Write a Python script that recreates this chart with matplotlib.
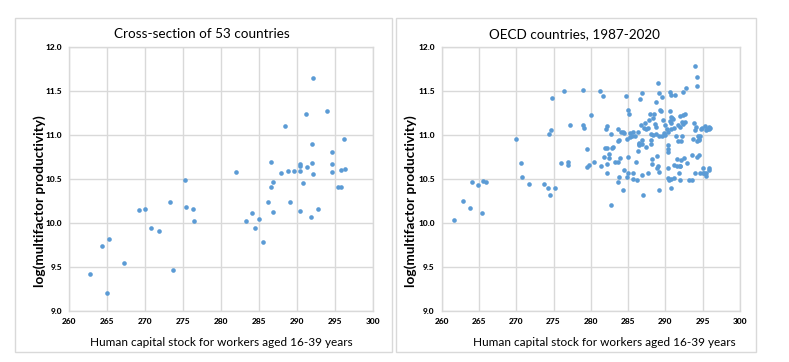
import matplotlib
matplotlib.use("Agg")
import matplotlib.pyplot as plt
from matplotlib.patches import Rectangle

plt.rcParams["font.family"] = ["Lato", "DejaVu Sans"]

# ---------------------------------------------------------------
# Data
# ---------------------------------------------------------------
cross_hc = [262.7, 264.3, 265.2, 265.0, 267.2, 269.2, 269.9, 270.8, 271.8, 273.3,
            273.7, 275.2, 275.3, 276.3, 276.4, 281.9, 283.2, 284.1, 284.4, 285.0,
            285.5, 286.1, 286.5, 286.6, 286.8, 286.8, 287.9, 288.4, 288.8, 289.0,
            289.6, 290.4, 290.4, 290.4, 290.4, 290.8, 291.2, 291.3, 291.8, 291.9,
            291.9, 292.1, 292.1, 292.7, 293.9, 294.5, 294.5, 294.6, 295.3, 295.7,
            295.8, 296.1, 296.3]
cross_mfp = [9.42, 9.73, 9.81, 9.20, 9.54, 10.14, 10.16, 9.94, 9.91, 10.24,
             9.46, 10.48, 10.18, 10.16, 10.02, 10.58, 10.02, 10.11, 9.94, 10.04,
             9.78, 10.23, 10.69, 10.41, 10.46, 10.12, 10.57, 11.10, 10.59, 10.23,
             10.59, 10.67, 10.65, 10.59, 10.13, 10.45, 11.23, 10.63, 10.06, 10.90,
             10.68, 11.65, 10.55, 10.16, 11.27, 10.58, 10.67, 10.80, 10.41, 10.60,
             10.41, 10.95, 10.61]

oecd_hc = [261.7, 262.8, 263.8, 264.0, 264.9, 265.4, 265.6, 266.0, 270.0, 270.7,
           270.8, 271.7, 273.7, 274.2, 274.4, 274.7, 274.8, 274.5, 275.2, 276.0,
           276.4, 276.9, 276.9, 277.2, 278.9, 278.9, 279.1, 279.5, 279.5, 279.8,
           280.0, 280.4, 281.2, 281.3, 281.6, 281.8, 281.9, 282.1, 282.1, 282.0,
           282.1, 282.1, 282.4, 282.4, 282.7, 282.7, 282.8, 283.0, 283.3, 283.6,
           283.6, 283.7, 283.8, 283.6, 283.8, 283.9, 284.1, 284.3, 284.3, 284.5,
           284.5, 284.7, 284.8, 285.0, 285.1, 284.9, 285.0, 285.0, 285.2, 285.2,
           285.5, 285.6, 285.7, 285.7, 285.9, 286.1, 286.2, 286.3, 286.3, 286.4,
           286.5, 286.5, 286.6, 286.7, 286.8, 286.9, 286.9, 286.9, 287.0, 287.1,
           287.3, 287.4, 287.4, 287.6, 287.7, 287.8, 287.9, 288.0, 288.1, 288.1,
           288.2, 288.2, 288.3, 288.4, 288.5, 288.6, 288.7, 288.7, 288.8, 288.9,
           288.9, 289.0, 289.0, 289.1, 289.1, 289.1, 289.2, 289.3, 289.4, 289.5,
           289.6, 289.7, 289.8, 289.9, 290.0, 290.2, 290.3, 290.3, 290.4, 290.4,
           290.4, 290.4, 290.5, 290.6, 290.6, 290.6, 290.7, 290.7, 290.7, 290.8,
           290.8, 290.8, 290.9, 291.0, 291.1, 291.2, 291.2, 291.3, 291.4, 291.5,
           291.6, 291.7, 291.7, 291.8, 291.9, 291.9, 291.9, 292.0, 292.0, 292.1,
           292.2, 292.1, 292.2, 292.3, 292.4, 292.4, 292.5, 292.6, 292.6, 292.7,
           292.9, 293.2, 293.5, 293.6, 293.7, 293.8, 293.9, 293.9, 294.0, 294.1,
           294.2, 294.2, 294.3, 294.3, 294.4, 294.5, 294.5, 294.5, 294.7, 294.6,
           294.8, 294.9, 295.0, 295.1, 295.2, 295.3, 295.4, 295.4, 295.5, 295.6,
           295.8, 295.8, 295.9, 295.9, 296.0]
oecd_mfp = [10.03, 10.25, 10.17, 10.46, 10.43, 10.11, 10.47, 10.46, 10.95, 10.68,
            10.52, 10.44, 10.44, 10.40, 11.01, 11.05, 11.42, 10.32, 10.40, 10.68,
            11.50, 10.69, 10.66, 11.11, 11.51, 11.11, 11.08, 10.84, 10.63, 10.66,
            11.22, 10.69, 11.50, 10.64, 11.44, 10.75, 10.85, 10.85, 11.10, 11.06,
            10.67, 10.57, 10.78, 10.74, 11.01, 10.20, 10.85, 10.86, 10.69, 10.69,
            11.07, 10.93, 10.94, 10.46, 10.52, 10.74, 11.03, 10.37, 11.03, 10.60,
            11.02, 11.44, 10.95, 11.28, 11.23, 10.52, 10.75, 10.56, 10.97, 11.02,
            10.98, 11.03, 10.56, 10.50, 10.98, 10.69, 10.49, 10.81, 11.03, 10.90,
            10.91, 10.88, 11.41, 11.11, 11.47, 10.94, 10.90, 10.54, 10.32, 11.08,
            11.13, 10.86, 11.06, 11.08, 10.57, 11.17, 11.23, 10.94, 10.90, 11.01,
            10.72, 10.67, 11.00, 11.19, 11.24, 11.12, 11.37, 11.09, 11.01, 10.76,
            10.62, 11.59, 10.65, 10.58, 11.47, 10.99, 10.37, 11.28, 11.27, 10.99,
            11.43, 11.17, 11.02, 11.11, 11.00, 11.06, 11.03, 10.88, 10.84, 10.80,
            10.62, 10.51, 10.48, 11.48, 11.27, 11.16, 11.13, 10.50, 10.40, 11.45,
            11.20, 11.07, 11.19, 11.18, 11.08, 10.66, 10.51, 11.45, 10.98, 10.64,
            10.72, 10.93, 11.11, 10.56, 10.65, 10.49, 10.65, 11.21, 11.09, 10.93,
            10.99, 10.71, 11.15, 11.22, 11.48, 11.12, 10.73, 11.23, 11.15, 11.53,
            10.68, 10.49, 10.77, 10.49, 10.95, 11.13, 10.56, 11.78, 11.05, 11.09,
            10.75, 10.93, 11.66, 11.55, 10.99, 10.95, 10.94, 10.77, 10.98, 10.56,
            11.07, 11.08, 10.56, 10.62, 10.56, 11.10, 11.05, 10.53, 10.56, 11.06,
            11.09, 10.60, 10.62, 11.06, 11.08]

x_ticks = [260, 265, 270, 275, 280, 285, 290, 295, 300]
y_ticks = [9.0, 9.5, 10.0, 10.5, 11.0, 11.5, 12.0]

titles = ["Cross-section of 53 countries", "OECD countries, 1987-2020"]
x_label = "Human capital stock for workers aged 16-39 years"
y_label = "log(multifactor productivity)"

DOT = "#5b9bd5"
GRID = "#d9d9d9"

W, H = 789, 362
fig = plt.figure(figsize=(W / 100, H / 100), dpi=100)


def fx(px):
    return px / W


def fy(py):
    return 1 - py / H


# panel frames
for x0, x1 in [(15, 392), (396, 756)]:
    fig.patches.append(Rectangle((fx(x0), fy(352)), fx(x1 - x0), (352 - 18) / H,
                                 transform=fig.transFigure, fill=False,
                                 edgecolor=GRID, linewidth=1.0))

panels = [
    dict(xs=cross_hc, ys=cross_mfp, ax_x=(69.3, 373.3), title_x=202, xlab_x=221, ylab_x=40),
    dict(xs=oecd_hc, ys=oecd_mfp, ax_x=(441.7, 740.0), title_x=574, xlab_x=604, ylab_x=411),
]

for p, title in zip(panels, titles):
    a0, a1 = p["ax_x"]
    ax = fig.add_axes([fx(a0), fy(310.7), fx(a1 - a0), (310.7 - 46.7) / H])
    ax.scatter(p["xs"], p["ys"], s=11, color=DOT, linewidths=0, zorder=3)
    ax.set_xlim(260, 300)
    ax.set_ylim(9.0, 12.0)
    ax.set_xticks(x_ticks)
    ax.set_yticks(y_ticks)
    ax.set_yticklabels([f"{v:.1f}" for v in y_ticks])
    ax.grid(True, color=GRID, linewidth=1.0)
    ax.set_axisbelow(True)
    for sp in ax.spines.values():
        sp.set_color(GRID)
        sp.set_linewidth(1.0)
    ax.tick_params(length=0, labelsize=6, pad=5, labelcolor="black")
    for lab in ax.get_xticklabels() + ax.get_yticklabels():
        lab.set_fontweight("black")

    fig.text(fx(p["title_x"]), fy(34), title, ha="center", va="center", fontsize=9.7)
    fig.text(fx(p["xlab_x"]), fy(343), x_label, ha="center", va="center", fontsize=8.5)
    fig.text(fx(p["ylab_x"]), fy(201), y_label, ha="center", va="center",
             rotation=90, fontsize=9.8, fontweight="bold")

fig.savefig("out.png", dpi=100)
